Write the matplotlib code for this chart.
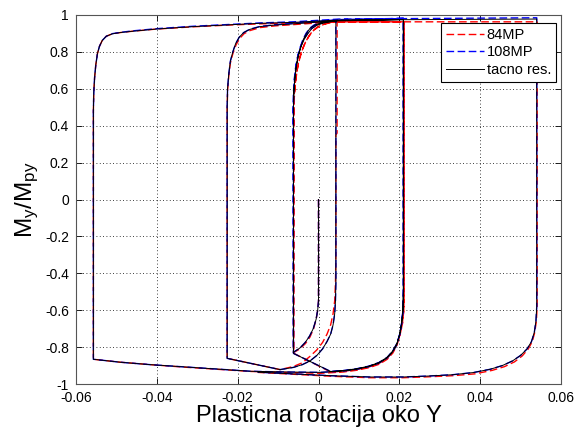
import matplotlib
matplotlib.use("Agg")
import matplotlib.pyplot as plt
from matplotlib.ticker import FixedLocator

plt.rcParams['font.family'] = ['Liberation Sans', 'DejaVu Sans']
plt.rcParams['mathtext.fontset'] = 'custom'
plt.rcParams['mathtext.rm'] = 'Liberation Sans'
plt.rcParams['mathtext.it'] = 'Liberation Sans'

# ---- data: "tacno res." (reference solution) ----
x_tacno = [0, 0, -0.0002, -0.0006, -0.0013, -0.0022, -0.0033, -0.0046, -0.0062,
           -0.0062, -0.0061, -0.0059, -0.0056, -0.0051, -0.0045, -0.0038, -0.0030, -0.0021, -0.0010, 0.0004, 0.0020, 0.0043,
           0.0043, 0.0043, 0.0042, 0.0040, 0.0036, 0.0030, 0.0021, 0.0010, -0.0004, -0.0021, -0.0040, -0.0062, -0.0095, -0.0226,
           -0.0226, -0.0225, -0.0222, -0.0218, -0.0212, -0.0205, -0.0196, -0.0185, -0.0170, -0.0145, -0.0110, -0.0062, 0.0004, 0.0050, 0.0210,
           0.0210, 0.0209, 0.0206, 0.0201, 0.0194, 0.0184, 0.0170, 0.0150, 0.0125, 0.0095, 0.0065, 0.0030, -0.0062,
           -0.0062, -0.0061, -0.0058, -0.0055, -0.0050, -0.0043, -0.0035, -0.0026, -0.0017, -0.0005, 0.0010, 0.0025, 0.0045, 0.0210,
           0.0210, 0.0209, 0.0205, 0.0200, 0.0193, 0.0182, 0.0168, 0.0148, 0.0122, 0.0092, 0.0060, 0.0004, -0.0080, -0.0168, -0.0244, -0.0330, -0.0417, -0.0490, -0.0557,
           -0.0557, -0.0556, -0.0554, -0.0551, -0.0547, -0.0542, -0.0535, -0.0525, -0.0510, -0.0490, -0.0460, -0.0400, -0.0310,
           -0.0227, -0.0145, -0.0062, 0.0050, 0.0540,
           0.0540, 0.0540, 0.0538, 0.0534, 0.0527, 0.0516, 0.0500, 0.0480, 0.0455, 0.0425, 0.0383, 0.0330, 0.0270, 0.0210,
           0.0127, 0.0030, -0.0150]
y_tacno = [0, -0.55, -0.60, -0.65, -0.70, -0.74, -0.775, -0.805, -0.828,
           0.50, 0.58, 0.65, 0.71, 0.77, 0.82, 0.865, 0.90, 0.928, 0.945, 0.956, 0.962, 0.967,
           -0.30, -0.45, -0.55, -0.62, -0.68, -0.73, -0.77, -0.81, -0.845, -0.875, -0.895, -0.910, -0.922, -0.861,
           0.50, 0.60, 0.68, 0.75, 0.80, 0.845, 0.88, 0.905, 0.922, 0.937, 0.945, 0.952, 0.962, 0.970, 0.975,
           -0.50, -0.60, -0.67, -0.73, -0.78, -0.82, -0.855, -0.883, -0.903, -0.917, -0.926, -0.932, -0.834,
           0.50, 0.59, 0.66, 0.72, 0.78, 0.83, 0.87, 0.90, 0.925, 0.943, 0.955, 0.962, 0.968, 0.976,
           -0.50, -0.60, -0.68, -0.74, -0.79, -0.83, -0.862, -0.888, -0.907, -0.921, -0.930, -0.937, -0.935, -0.931, -0.920, -0.908, -0.895, -0.882, -0.866,
           0.48, 0.58, 0.66, 0.73, 0.79, 0.83, 0.862, 0.885, 0.898, 0.905, 0.912, 0.924, 0.937,
           0.946, 0.955, 0.960, 0.973, 0.978,
           -0.45, -0.58, -0.66, -0.72, -0.77, -0.81, -0.845, -0.875, -0.900, -0.920, -0.938, -0.950, -0.957, -0.962,
           -0.962, -0.955, -0.936]

# ---- data: 84MP ----
x_84 = [0, 0, -0.0002, -0.0006, -0.0012, -0.0021, -0.0032, -0.0046, -0.0062,
        -0.0061, -0.0060, -0.0057, -0.0053, -0.0048, -0.0041, -0.0033, -0.0024, -0.0014, -0.0002, 0.0012, 0.0027, 0.0046,
        0.0046, 0.0043, 0.0043, 0.0042, 0.0040, 0.0036, 0.0030, 0.0021, 0.0010, -0.0004, -0.0021, -0.0040, -0.0062, -0.0095, -0.0226,
        -0.0226, -0.0225, -0.0222, -0.0218, -0.0212, -0.0204, -0.0195, -0.0184, -0.0169, -0.0144, -0.0108, -0.0061, 0.0005, 0.0051, 0.0212,
        0.0212, 0.0211, 0.0208, 0.0202, 0.0195, 0.0185, 0.0171, 0.0151, 0.0126, 0.0096, 0.0065, 0.0030, -0.0061,
        -0.0061, -0.0060, -0.0057, -0.0053, -0.0047, -0.0040, -0.0032, -0.0022, -0.0012, 0.0000, 0.0014, 0.0029, 0.0047, 0.0212,
        0.0212, 0.0211, 0.0207, 0.0201, 0.0194, 0.0184, 0.0170, 0.0150, 0.0124, 0.0093, 0.0061, 0.0004, -0.0080, -0.0168, -0.0244, -0.0330, -0.0417, -0.0490, -0.0557,
        -0.0557, -0.0556, -0.0554, -0.0551, -0.0547, -0.0542, -0.0535, -0.0525, -0.0510, -0.0490, -0.0460, -0.0400, -0.0310,
        -0.0227, -0.0145, -0.0062, 0.0050, 0.0541,
        0.0541, 0.0541, 0.0539, 0.0535, 0.0529, 0.0519, 0.0504, 0.0485, 0.0460, 0.0430, 0.0387, 0.0333, 0.0272, 0.0210,
        0.0127, 0.0030, -0.0150]
y_84 = [0, -0.55, -0.60, -0.65, -0.70, -0.745, -0.78, -0.81, -0.830,
        0.45, 0.55, 0.63, 0.70, 0.76, 0.81, 0.85, 0.885, 0.915, 0.936, 0.950, 0.958, 0.963,
        0.36, 0.35, -0.30, -0.45, -0.55, -0.62, -0.68, -0.73, -0.775, -0.815, -0.85, -0.885, -0.905, -0.922, -0.861,
        0.48, 0.59, 0.67, 0.74, 0.79, 0.838, 0.873, 0.899, 0.916, 0.932, 0.941, 0.948, 0.958, 0.963, 0.963,
        -0.50, -0.60, -0.67, -0.73, -0.78, -0.822, -0.858, -0.887, -0.907, -0.921, -0.930, -0.935, -0.834,
        0.48, 0.57, 0.64, 0.70, 0.76, 0.81, 0.855, 0.89, 0.917, 0.936, 0.950, 0.958, 0.963, 0.963,
        -0.50, -0.60, -0.68, -0.74, -0.79, -0.832, -0.866, -0.893, -0.912, -0.926, -0.935, -0.942, -0.937, -0.932, -0.921, -0.909, -0.895, -0.882, -0.866,
        0.48, 0.58, 0.66, 0.73, 0.79, 0.83, 0.862, 0.885, 0.898, 0.905, 0.912, 0.924, 0.936,
        0.945, 0.952, 0.957, 0.963, 0.963,
        -0.45, -0.58, -0.66, -0.72, -0.77, -0.81, -0.848, -0.880, -0.906, -0.926, -0.945, -0.955, -0.961, -0.966,
        -0.966, -0.958, -0.937]

# ---- data: 108MP ----
x_108 = [0, 0, -0.0002, -0.0006, -0.0013, -0.0022, -0.0033, -0.0046, -0.0062,
         -0.0063, -0.0062, -0.0060, -0.0057, -0.0052, -0.0046, -0.0039, -0.0031, -0.0022, -0.0011, 0.0003, 0.0019, 0.0043,
         0.0043, 0.0043, 0.0042, 0.0040, 0.0036, 0.0030, 0.0021, 0.0010, -0.0004, -0.0021, -0.0040, -0.0062, -0.0095, -0.0226,
         -0.0226, -0.0225, -0.0222, -0.0218, -0.0212, -0.0205, -0.0196, -0.0185, -0.0170, -0.0145, -0.0110, -0.0062, 0.0004, 0.0050, 0.0210,
         0.0210, 0.0209, 0.0206, 0.0201, 0.0194, 0.0184, 0.0170, 0.0150, 0.0125, 0.0095, 0.0065, 0.0030, -0.0062,
         -0.0062, -0.0061, -0.0059, -0.0056, -0.0051, -0.0044, -0.0036, -0.0027, -0.0018, -0.0006, 0.0009, 0.0024, 0.0044, 0.0210,
         0.0210, 0.0209, 0.0205, 0.0200, 0.0193, 0.0182, 0.0168, 0.0148, 0.0122, 0.0092, 0.0060, 0.0004, -0.0080, -0.0168, -0.0244, -0.0330, -0.0417, -0.0490, -0.0557,
         -0.0557, -0.0556, -0.0554, -0.0551, -0.0547, -0.0542, -0.0535, -0.0525, -0.0510, -0.0490, -0.0460, -0.0400, -0.0310,
         -0.0227, -0.0145, -0.0062, 0.0050, 0.0540,
         0.0540, 0.0540, 0.0538, 0.0534, 0.0527, 0.0516, 0.0500, 0.0480, 0.0455, 0.0425, 0.0383, 0.0330, 0.0270, 0.0210,
         0.0127, 0.0030, -0.0150]
y_108 = [0, -0.55, -0.60, -0.65, -0.70, -0.74, -0.775, -0.805, -0.828,
         0.50, 0.58, 0.65, 0.71, 0.77, 0.82, 0.865, 0.90, 0.928, 0.946, 0.958, 0.965, 0.970,
         -0.30, -0.45, -0.55, -0.62, -0.68, -0.73, -0.77, -0.81, -0.845, -0.875, -0.895, -0.910, -0.922, -0.861,
         0.50, 0.60, 0.68, 0.75, 0.80, 0.845, 0.88, 0.905, 0.923, 0.938, 0.947, 0.955, 0.966, 0.975, 0.982,
         -0.50, -0.60, -0.67, -0.73, -0.78, -0.82, -0.855, -0.883, -0.903, -0.917, -0.926, -0.932, -0.834,
         0.50, 0.59, 0.66, 0.72, 0.78, 0.83, 0.87, 0.90, 0.926, 0.945, 0.958, 0.966, 0.972, 0.982,
         -0.50, -0.60, -0.68, -0.74, -0.79, -0.83, -0.862, -0.888, -0.907, -0.921, -0.930, -0.937, -0.935, -0.931, -0.920, -0.908, -0.895, -0.882, -0.866,
         0.48, 0.58, 0.66, 0.73, 0.79, 0.83, 0.862, 0.885, 0.899, 0.906, 0.914, 0.926, 0.939,
         0.948, 0.957, 0.963, 0.978, 0.985,
         -0.45, -0.58, -0.66, -0.72, -0.77, -0.81, -0.845, -0.875, -0.900, -0.920, -0.938, -0.950, -0.957, -0.962,
         -0.962, -0.955, -0.936]

x_ticks = [-0.06, -0.04, -0.02, 0, 0.02, 0.04, 0.06]
x_ticklabels = ['-0.06', '-0.04', '-0.02', '0', '0.02', '0.04', '0.06']
y_ticks = [-1, -0.8, -0.6, -0.4, -0.2, 0, 0.2, 0.4, 0.6, 0.8, 1]
y_ticklabels = ['-1', '-0.8', '-0.6', '-0.4', '-0.2', '0', '0.2', '0.4', '0.6', '0.8', '1']
series_labels = ['84MP', '108MP', 'tacno res.']

fig = plt.figure(figsize=(5.76, 4.28), dpi=100)
ax = fig.add_axes([76/576, 1 - 384/428, (561 - 76)/576, (384 - 15)/428])

ax.plot(x_84, y_84, color='#ff0000', lw=1.0, dashes=(5.5, 2.5), label=series_labels[0])
ax.plot(x_108, y_108, color='#0000ff', lw=1.0, dashes=(5.5, 2.5), label=series_labels[1])
ax.plot(x_tacno, y_tacno, color='black', lw=0.7, label=series_labels[2])

ax.set_xlim(-0.06, 0.06)
ax.set_ylim(-1, 1)
ax.xaxis.set_major_locator(FixedLocator(x_ticks))
ax.yaxis.set_major_locator(FixedLocator(y_ticks))
ax.set_xticklabels(x_ticklabels)
ax.set_yticklabels(y_ticklabels)
ax.tick_params(direction='in', top=True, right=True, length=4, width=0.6,
               labelsize=10, colors='black', pad=5)
ax.grid(True, color='black', linestyle=(0, (1, 3)), linewidth=0.6)
for s in ax.spines.values():
    s.set_linewidth(0.8)
    s.set_color('#555555')

ax.set_xlabel('Plasticna rotacija oko Y', fontsize=17, labelpad=0)
ax.set_ylabel(r'$\mathregular{M_y/M_{py}}$', fontsize=17.5, labelpad=3)

leg = ax.legend(loc='upper right', bbox_to_anchor=(0.9897, 0.979), borderaxespad=0,
                fontsize=10.5, handlelength=2.6, labelspacing=0.25, handletextpad=0.15,
                borderpad=0.35, fancybox=False, framealpha=1, edgecolor='black')
leg.get_frame().set_linewidth(0.8)

fig.savefig('out.png', dpi=100)
